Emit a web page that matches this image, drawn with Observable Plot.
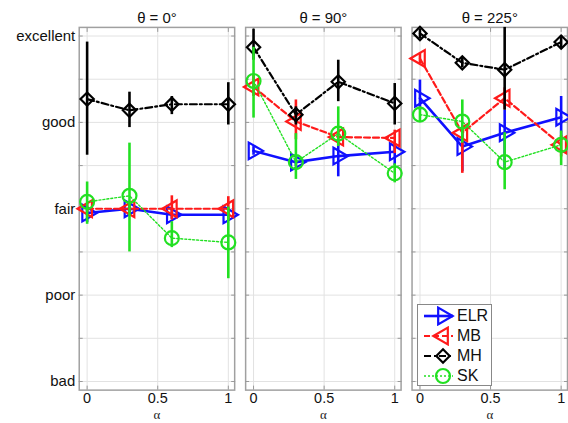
<!DOCTYPE html>
<html>
<head>
<meta charset="utf-8">
<script src="https://cdn.jsdelivr.net/npm/d3@7"></script>
<script src="https://cdn.jsdelivr.net/npm/@observablehq/plot@0.6"></script>
<style>
  html, body { margin: 0; padding: 0; background: #fff; overflow: hidden; }
  #wrap { position: relative; width: 568px; height: 423px; overflow: hidden; font-family: "Liberation Sans", Arial, sans-serif; }
  #legend { position: absolute; left: 417px; top: 304px; width: 75px; height: 82px; border: 1px solid #888; background: #fff; box-sizing: border-box; }
  #legend .row { position: absolute; left: 0; height: 20px; display: flex; align-items: center; font-size: 16px; color: #111; }
  #legend svg { display: block; }
  #chart svg [aria-label="y-axis tick label"] { font-size: 15px; }
  #chart svg [aria-label="x-axis tick label"] { font-size: 14.5px; }
  #chart svg [aria-label="fx-axis tick label"] { font-size: 15px; }
</style>
</head>
<body>
<div id="wrap"><div id="chart"></div><div id="legend"></div></div>
<script>
const alphas = [0, 0.3, 0.6, 1];
const thetaLabels = ["θ = 0°", "θ = 90°", "θ = 225°"];
const yTickValues = [1, 2, 3, 4, 5];
const yTickLabels = ["bad", "poor", "fair", "good", "excellent"];
const xTickValues = [0, 0.5, 1];
const seriesNames = ["ELR", "MB", "MH", "SK"];

// rows: one per theta panel, columns: alphas
const elrMean = [[2.95, 3.00, 2.93, 2.93], [3.67, 3.54, 3.61, 3.66], [4.28, 3.72, 3.88, 4.06]];
const elrLow  = [[2.84, 2.94, 2.88, 2.88], [3.62, 3.49, 3.37, 3.50], [4.14, 3.43, 3.45, 3.80]];
const elrHigh = [[3.02, 3.05, 2.99, 2.99], [3.72, 3.59, 3.76, 3.72], [4.49, 3.95, 4.14, 4.30]];

const mbMean = [[3.00, 3.00, 3.00, 3.00], [4.41, 4.01, 3.83, 3.82], [4.74, 3.88, 4.28, 3.74]];
const mbLow  = [[2.95, 2.95, 2.87, 2.87], [4.30, 3.80, 3.75, 3.64], [4.68, 3.41, 4.15, 3.60]];
const mbHigh = [[3.05, 3.08, 3.15, 3.14], [4.55, 4.26, 3.92, 3.91], [4.80, 3.95, 4.40, 3.85]];

const mhMean = [[4.27, 4.14, 4.21, 4.21], [4.87, 4.09, 4.47, 4.22], [5.03, 4.69, 4.61, 4.93]];
const mhLow  = [[3.62, 3.94, 4.09, 3.97], [4.72, 3.97, 4.24, 3.97], [4.97, 4.63, 4.14, 4.85]];
const mhHigh = [[4.93, 4.35, 4.30, 4.46], [5.08, 4.18, 4.72, 4.45], [5.08, 4.75, 5.10, 5.00]];

const skMean = [[3.08, 3.15, 2.66, 2.61], [4.48, 3.54, 3.87, 3.41], [4.09, 4.01, 3.54, 3.74]];
const skLow  = [[2.82, 2.50, 2.55, 2.19], [4.05, 3.34, 3.72, 3.30], [4.00, 3.76, 3.22, 3.50]];
const skHigh = [[3.31, 3.76, 2.85, 3.02], [4.87, 3.87, 4.18, 3.52], [4.18, 4.26, 3.88, 3.90]];

const styles = {
  ELR: {color: "#1010ff", dash: null, lineWidth: 2.6, symbol: "triangle", rotate: 90, r: 6.2},
  MB:  {color: "#ff1a1a", dash: "6,3", lineWidth: 2.2, symbol: "triangle", rotate: -90, r: 6.2},
  MH:  {color: "#000000", dash: "7,3,2,3", lineWidth: 2.2, symbol: "diamond2", rotate: 0, r: 6},
  SK:  {color: "#22e022", dash: "2,2", lineWidth: 1.4, symbol: "circle", rotate: 0, r: 7}
};

const seriesData = {
  ELR: [elrMean, elrLow, elrHigh],
  MB: [mbMean, mbLow, mbHigh],
  MH: [mhMean, mhLow, mhHigh],
  SK: [skMean, skLow, skHigh]
};

const rows = [];
for (const s of seriesNames) {
  const [m, lo, hi] = seriesData[s];
  thetaLabels.forEach((t, i) => {
    alphas.forEach((a, j) => {
      rows.push({series: s, theta: t, alpha: a, mean: m[i][j], lo: lo[i][j], hi: hi[i][j]});
    });
  });
}

const halfSteps = d3.range(1, 5.01, 0.5);
const marks = [
  Plot.gridY({ticks: halfSteps, stroke: "#e2e2e2", strokeOpacity: 1, strokeWidth: 1}),
  Plot.gridX({ticks: xTickValues, stroke: "#e2e2e2", strokeOpacity: 1, strokeWidth: 1}),
  Plot.frame({stroke: "#a0a0a0", strokeWidth: 1.5}),
  // inward tick marks on all four sides of every panel
  Plot.axisY({anchor: "left", ticks: halfSteps, tickSize: -4, tickFormat: () => "", label: null, facetAnchor: null, stroke: "#999"}),
  Plot.axisY({anchor: "right", ticks: halfSteps, tickSize: -4, tickFormat: () => "", label: null, facetAnchor: null, stroke: "#999"}),
  Plot.axisX({anchor: "bottom", ticks: xTickValues, tickSize: -4, tickFormat: () => "", label: null, facetAnchor: null, stroke: "#999"}),
  Plot.axisX({anchor: "top", ticks: xTickValues, tickSize: -4, tickFormat: () => "", label: null, facetAnchor: null, stroke: "#999"}),
  // labels
  Plot.axisY({ticks: yTickValues, tickFormat: d => yTickLabels[d - 1], tickSize: 0, tickPadding: 4, fontSize: 15, label: null, fill: "#111"}),
  Plot.axisX({ticks: xTickValues, tickFormat: d => String(d), tickSize: 0, tickPadding: 3, fontSize: 14.5, label: null, fill: "#111"}),
  Plot.axisFx({anchor: "top", tickSize: 0, tickPadding: 4, fontSize: 15, label: null, fill: "#111"}),
  Plot.text(["α"], {frameAnchor: "bottom", lineAnchor: "middle", dy: 24.6, fontSize: 13, fontFamily: "Liberation Serif, DejaVu Serif, serif", fill: "#222"})
];

for (const s of seriesNames) {
  const st = styles[s];
  const d = rows.filter(r => r.series === s);
  marks.push(Plot.ruleX(d, {fx: "theta", x: "alpha", y1: "lo", y2: "hi", stroke: st.color, strokeWidth: 2.6}));
  marks.push(Plot.line(d, {fx: "theta", x: "alpha", y: "mean", stroke: st.color, strokeWidth: st.lineWidth, strokeDasharray: st.dash}));
  marks.push(Plot.dot(d, {fx: "theta", x: "alpha", y: "mean", symbol: st.symbol, rotate: st.rotate, r: st.r, stroke: st.color, strokeWidth: 2.2, fill: "none"}));
}

const chart = Plot.plot({
  width: 570,
  height: 423,
  marginLeft: 78,
  marginRight: 1,
  marginTop: 27,
  marginBottom: 32,
  style: {fontFamily: "Liberation Sans, Arial, sans-serif", fontSize: "15px", color: "#111", background: "#fff"},
  fx: {domain: thetaLabels, paddingInner: 0.066, paddingOuter: 0},
  x: {domain: [-0.056, 1.045]},
  y: {domain: [0.9, 5.1]},
  marks
});
document.getElementById("chart").appendChild(chart);

// legend
const legend = document.getElementById("legend");
seriesNames.forEach((s, i) => {
  const st = styles[s];
  const row = document.createElement("div");
  row.className = "row";
  row.style.top = (1 + i * 20) + "px";
  const ns = "http://www.w3.org/2000/svg";
  const svg = document.createElementNS(ns, "svg");
  svg.setAttribute("width", 38);
  svg.setAttribute("height", 20);
  const line = document.createElementNS(ns, "line");
  line.setAttribute("x1", 6); line.setAttribute("x2", 35);
  line.setAttribute("y1", 10); line.setAttribute("y2", 10);
  line.setAttribute("stroke", st.color);
  line.setAttribute("stroke-width", st.lineWidth);
  if (st.dash) line.setAttribute("stroke-dasharray", st.dash);
  svg.appendChild(line);
  const sym = {triangle: d3.symbolTriangle, diamond2: d3.symbolDiamond2, circle: d3.symbolCircle}[st.symbol];
  const path = document.createElementNS(ns, "path");
  path.setAttribute("d", d3.symbol(sym, Math.PI * st.r * st.r)());
  path.setAttribute("transform", `translate(25,10) rotate(${st.rotate})`);
  path.setAttribute("fill", "none");
  path.setAttribute("stroke", st.color);
  path.setAttribute("stroke-width", 2.2);
  svg.appendChild(path);
  row.appendChild(svg);
  const label = document.createElement("span");
  label.textContent = s;
  label.style.marginLeft = "1px";
  row.appendChild(label);
  legend.appendChild(row);
});
</script>
</body>
</html>
